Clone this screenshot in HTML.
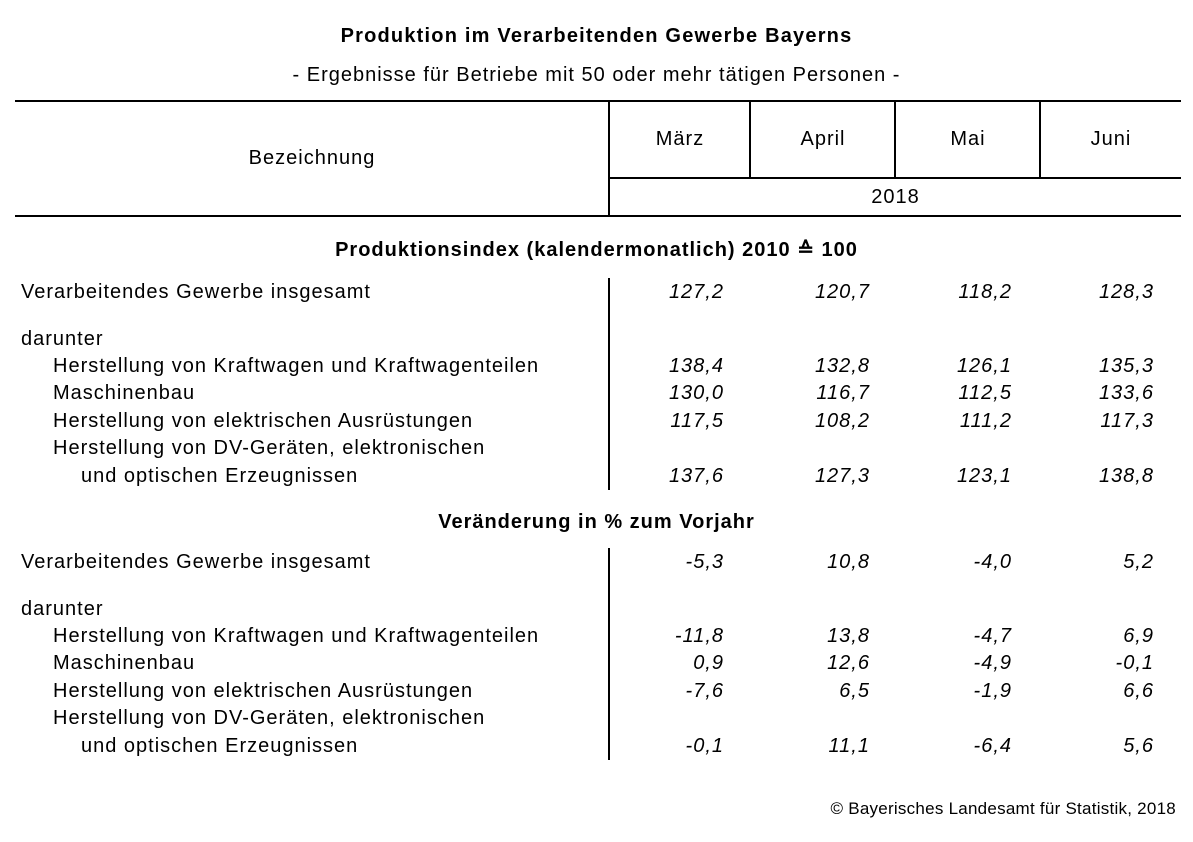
<!DOCTYPE html><html><head><meta charset="utf-8"><style>
body{margin:0;width:1193px;height:842px;background:#fff;position:relative;font-family:"Liberation Sans",Arial,sans-serif;font-size:20px;color:#000;overflow:hidden;letter-spacing:1px}
.t{position:absolute;white-space:nowrap;line-height:24px;height:24px}
.c{text-align:center}
.n{font-style:italic;text-align:right;width:120px}
.b{font-weight:bold}
.h{position:absolute;background:#000;height:2px}
.v{position:absolute;background:#000;width:2px}
</style></head><body>
<div class="t c b" style="left:0;width:1193px;top:24px;letter-spacing:1.2px">Produktion im Verarbeitenden Gewerbe Bayerns</div>
<div class="t c" style="left:0;width:1193px;top:63px">- Ergebnisse für Betriebe mit 50 oder mehr tätigen Personen -</div>
<div class="h" style="left:15px;width:1166px;top:100px"></div>
<div class="h" style="left:609px;width:572px;top:177px"></div>
<div class="h" style="left:15px;width:1166px;top:215px"></div>
<div class="v" style="left:608px;top:100px;height:117px"></div>
<div class="v" style="left:749px;top:100px;height:78px"></div>
<div class="v" style="left:894px;top:100px;height:78px"></div>
<div class="v" style="left:1039px;top:100px;height:78px"></div>
<div class="t c" style="left:15px;width:594px;top:146px">Bezeichnung</div>
<div class="t c" style="left:610px;width:140px;top:127px">März</div>
<div class="t c" style="left:751px;width:144px;top:127px">April</div>
<div class="t c" style="left:896px;width:144px;top:127px">Mai</div>
<div class="t c" style="left:1041px;width:140px;top:127px">Juni</div>
<div class="t c" style="left:610px;width:571px;top:185px">2018</div>
<div class="t c b" style="left:0;width:1193px;top:238px">Produktionsindex (kalendermonatlich) 2010 ≙ 100</div>
<div class="t c b" style="left:0;width:1193px;top:510px">Veränderung in % zum Vorjahr</div>
<div class="v" style="left:608px;top:278px;height:212px"></div>
<div class="v" style="left:608px;top:548px;height:212px"></div>

<div class="t" style="left:21px;top:280px">Verarbeitendes Gewerbe insgesamt</div>
<div class="t" style="left:21px;top:327px">darunter</div>
<div class="t" style="left:53px;top:354px">Herstellung von Kraftwagen und Kraftwagenteilen</div>
<div class="t" style="left:53px;top:381px">Maschinenbau</div>
<div class="t" style="left:53px;top:409px">Herstellung von elektrischen Ausrüstungen</div>
<div class="t" style="left:53px;top:436px">Herstellung von DV-Geräten, elektronischen</div>
<div class="t" style="left:81px;top:464px">und optischen Erzeugnissen</div>

<div class="t" style="left:21px;top:550px">Verarbeitendes Gewerbe insgesamt</div>
<div class="t" style="left:21px;top:597px">darunter</div>
<div class="t" style="left:53px;top:624px">Herstellung von Kraftwagen und Kraftwagenteilen</div>
<div class="t" style="left:53px;top:651px">Maschinenbau</div>
<div class="t" style="left:53px;top:679px">Herstellung von elektrischen Ausrüstungen</div>
<div class="t" style="left:53px;top:706px">Herstellung von DV-Geräten, elektronischen</div>
<div class="t" style="left:81px;top:734px">und optischen Erzeugnissen</div>

<div class="t n" style="left:604px;top:280px">127,2</div><div class="t n" style="left:750px;top:280px">120,7</div><div class="t n" style="left:892px;top:280px">118,2</div><div class="t n" style="left:1034px;top:280px">128,3</div>
<div class="t n" style="left:604px;top:354px">138,4</div><div class="t n" style="left:750px;top:354px">132,8</div><div class="t n" style="left:892px;top:354px">126,1</div><div class="t n" style="left:1034px;top:354px">135,3</div>
<div class="t n" style="left:604px;top:381px">130,0</div><div class="t n" style="left:750px;top:381px">116,7</div><div class="t n" style="left:892px;top:381px">112,5</div><div class="t n" style="left:1034px;top:381px">133,6</div>
<div class="t n" style="left:604px;top:409px">117,5</div><div class="t n" style="left:750px;top:409px">108,2</div><div class="t n" style="left:892px;top:409px">111,2</div><div class="t n" style="left:1034px;top:409px">117,3</div>
<div class="t n" style="left:604px;top:464px">137,6</div><div class="t n" style="left:750px;top:464px">127,3</div><div class="t n" style="left:892px;top:464px">123,1</div><div class="t n" style="left:1034px;top:464px">138,8</div>

<div class="t n" style="left:604px;top:550px">-5,3</div><div class="t n" style="left:750px;top:550px">10,8</div><div class="t n" style="left:892px;top:550px">-4,0</div><div class="t n" style="left:1034px;top:550px">5,2</div>
<div class="t n" style="left:604px;top:624px">-11,8</div><div class="t n" style="left:750px;top:624px">13,8</div><div class="t n" style="left:892px;top:624px">-4,7</div><div class="t n" style="left:1034px;top:624px">6,9</div>
<div class="t n" style="left:604px;top:651px">0,9</div><div class="t n" style="left:750px;top:651px">12,6</div><div class="t n" style="left:892px;top:651px">-4,9</div><div class="t n" style="left:1034px;top:651px">-0,1</div>
<div class="t n" style="left:604px;top:679px">-7,6</div><div class="t n" style="left:750px;top:679px">6,5</div><div class="t n" style="left:892px;top:679px">-1,9</div><div class="t n" style="left:1034px;top:679px">6,6</div>
<div class="t n" style="left:604px;top:734px">-0,1</div><div class="t n" style="left:750px;top:734px">11,1</div><div class="t n" style="left:892px;top:734px">-6,4</div><div class="t n" style="left:1034px;top:734px">5,6</div>

<div class="t" style="right:17px;top:797px;font-size:17px;letter-spacing:0.25px">© Bayerisches Landesamt für Statistik, 2018</div>
</body></html>
